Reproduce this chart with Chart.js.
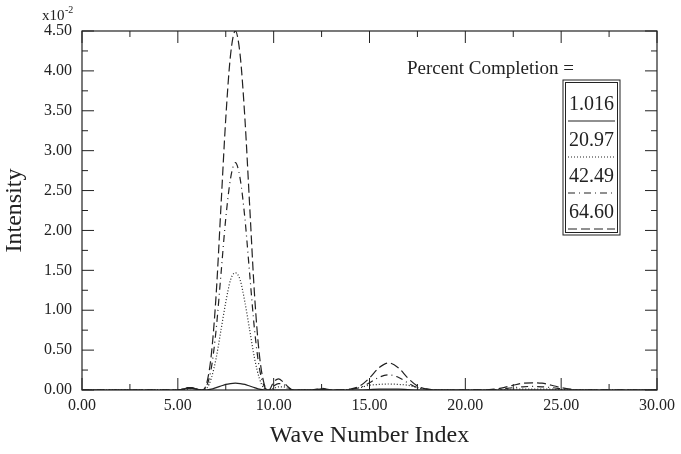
<!DOCTYPE html>
<html>
<head>
<meta charset="utf-8">
<script src="https://cdn.jsdelivr.net/npm/chart.js@4/dist/chart.umd.min.js"></script>
<style>
  html, body { margin: 0; padding: 0; background: #fff; }
  .wrap { position: relative; width: 681px; height: 454px; }
</style>
</head>
<body>
<div class="wrap"><canvas id="spectrum"></canvas></div>
<script>
// wave number index (x) shared by all curves
const waveIndex = [
  0, 1, 2, 3, 4, 4.5, 5, 5.25, 5.5, 5.75,
  6, 6.25, 6.5, 6.75, 7, 7.25, 7.5, 7.75, 8, 8.25,
  8.5, 8.75, 9, 9.25, 9.5, 9.75, 10, 10.25, 10.5, 10.75,
  11, 11.5, 12, 12.5, 13, 13.5, 14, 14.5, 15, 15.5,
  16, 16.5, 17, 17.5, 18, 18.5, 19, 20, 21, 21.5,
  22, 22.5, 23, 23.5, 24, 24.5, 25, 25.5, 26, 27,
  28, 29, 30
];

// intensity, in units of 1e-2
const pct1016 = [
  0, 0, 0, 0, 0, 0, 0, 0.01, 0.02, 0.02,
  0.01, 0, 0, 0.01, 0.03, 0.05, 0.07, 0.08, 0.085, 0.08,
  0.07, 0.05, 0.03, 0.01, 0, 0, 0, 0, 0, 0,
  0, 0, 0, 0.01, 0, 0, 0, 0, 0.005, 0.01,
  0.01, 0.01, 0.005, 0, 0, 0, 0, 0, 0, 0,
  0, 0, 0, 0, 0, 0, 0, 0, 0, 0,
  0, 0, 0
];
const pct2097 = [
  0, 0, 0, 0, 0, 0, 0, 0, 0.01, 0.02,
  0.01, 0, 0.02, 0.15, 0.4, 0.75, 1.1, 1.38, 1.47, 1.38,
  1.1, 0.75, 0.4, 0.15, 0.02, 0, 0.02, 0.04, 0.04, 0.02,
  0, 0, 0, 0.01, 0, 0, 0.01, 0.03, 0.06, 0.07,
  0.075, 0.07, 0.06, 0.03, 0.01, 0, 0, 0, 0, 0,
  0.005, 0.01, 0.01, 0.01, 0.01, 0.01, 0.005, 0, 0, 0,
  0, 0, 0
];
const pct4249 = [
  0, 0, 0, 0, 0, 0, 0, 0.01, 0.02, 0.02,
  0.01, 0, 0.05, 0.28, 0.76, 1.45, 2.15, 2.65, 2.85, 2.65,
  2.15, 1.45, 0.76, 0.28, 0.05, 0, 0.05, 0.08, 0.07, 0.03,
  0, 0, 0, 0.01, 0, 0, 0.01, 0.03, 0.09, 0.16,
  0.19, 0.16, 0.09, 0.03, 0.01, 0, 0, 0, 0, 0,
  0.015, 0.03, 0.04, 0.045, 0.04, 0.03, 0.015, 0, 0, 0,
  0, 0, 0
];
const pct6460 = [
  0, 0, 0, 0, 0, 0, 0, 0.01, 0.03, 0.03,
  0.01, 0, 0.08, 0.45, 1.2, 2.3, 3.4, 4.2, 4.5, 4.2,
  3.4, 2.3, 1.2, 0.45, 0.08, 0, 0.1, 0.14, 0.1, 0.04,
  0, 0, 0, 0.02, 0, 0, 0.01, 0.05, 0.15, 0.28,
  0.34, 0.28, 0.15, 0.05, 0.01, 0, 0, 0, 0, 0.01,
  0.03, 0.06, 0.085, 0.09, 0.085, 0.06, 0.03, 0.01, 0, 0,
  0, 0, 0
];

const seriesLabels = ['1.016', '20.97', '42.49', '64.60'];
const seriesDashes = [[], [1, 2], [7, 4, 1, 4], [9, 4]];
const seriesValues = [pct1016, pct2097, pct4249, pct6460];

const SERIF = '"Liberation Serif", "Times New Roman", serif';
const INK = '#222';

function toPoints(values) {
  return values.map((v, i) => ({ x: waveIndex[i], y: v }));
}

// frame, inward ticks on all sides, exponent note and legend box
const framePlugin = {
  id: 'frame',
  afterDraw(chart) {
    const { ctx, chartArea: a, scales: { x, y } } = chart;
    ctx.save();
    ctx.strokeStyle = INK;
    ctx.lineWidth = 1.2;
    ctx.strokeRect(a.left, a.top, a.right - a.left, a.bottom - a.top);

    ctx.lineWidth = 1;
    ctx.beginPath();
    x.ticks.forEach(t => {
      const px = x.getPixelForValue(t.value);
      ctx.moveTo(px, a.bottom); ctx.lineTo(px, a.bottom - 12);
      ctx.moveTo(px, a.top); ctx.lineTo(px, a.top + 12);
      if (t.value + 2.5 < x.max) {
        const pm = x.getPixelForValue(t.value + 2.5);
        ctx.moveTo(pm, a.bottom); ctx.lineTo(pm, a.bottom - 6);
        ctx.moveTo(pm, a.top); ctx.lineTo(pm, a.top + 6);
      }
    });
    y.ticks.forEach(t => {
      const py = y.getPixelForValue(t.value);
      ctx.moveTo(a.left, py); ctx.lineTo(a.left + 12, py);
      ctx.moveTo(a.right, py); ctx.lineTo(a.right - 12, py);
      if (t.value + 0.25 < y.max) {
        const pm = y.getPixelForValue(t.value + 0.25);
        ctx.moveTo(a.left, pm); ctx.lineTo(a.left + 6, pm);
        ctx.moveTo(a.right, pm); ctx.lineTo(a.right - 6, pm);
      }
    });
    ctx.stroke();

    // x10^-2 note
    ctx.fillStyle = INK;
    ctx.textBaseline = 'alphabetic';
    ctx.textAlign = 'left';
    ctx.font = '15px ' + SERIF;
    ctx.fillText('x10', a.left - 40, a.top - 11);
    ctx.font = '10px ' + SERIF;
    ctx.fillText('-2', a.left - 17, a.top - 18);

    // legend
    ctx.font = '19px ' + SERIF;
    ctx.textBaseline = 'middle';
    ctx.fillText('Percent Completion =', a.right - 250, a.top + 38);

    const bx = a.right - 94, by = a.top + 49, bw = 57, bh = 155;
    ctx.lineWidth = 1;
    ctx.strokeRect(bx, by, bw, bh);
    ctx.strokeRect(bx + 2.5, by + 2.5, bw - 5, bh - 5);

    ctx.textAlign = 'center';
    ctx.font = '20px ' + SERIF;
    chart.data.datasets.forEach((ds, i) => {
      const cy = by + 25 + i * 36;
      ctx.fillText(ds.label, bx + bw / 2, cy);
      ctx.setLineDash(ds.borderDash || []);
      ctx.lineWidth = 1.2;
      ctx.beginPath();
      ctx.moveTo(bx + 5, cy + 16);
      ctx.lineTo(bx + bw - 5, cy + 16);
      ctx.stroke();
      ctx.setLineDash([]);
    });
    ctx.restore();
  },
};

new Chart(document.getElementById('spectrum'), {
  type: 'line',
  data: {
    datasets: seriesLabels.map((label, i) => ({
      label: label,
      data: toPoints(seriesValues[i]),
      borderColor: INK,
      borderWidth: 1.2,
      borderDash: seriesDashes[i],
      pointRadius: 0,
      fill: false,
      cubicInterpolationMode: 'monotone',
    })),
  },
  options: {
    responsive: true,
    maintainAspectRatio: false,
    animation: false,
    layout: { padding: { top: 31, right: 19, left: 0, bottom: 0 } },
    plugins: { legend: { display: false }, tooltip: { enabled: false } },
    scales: {
      x: {
        type: 'linear',
        min: 0,
        max: 30,
        afterFit: scale => { scale.height = 64; },
        grid: { display: false, drawTicks: false },
        border: { display: false },
        ticks: {
          stepSize: 5,
          padding: 6,
          color: INK,
          font: { family: SERIF, size: 16 },
          callback: v => v.toFixed(2),
        },
        title: {
          display: true,
          text: 'Wave Number Index',
          color: INK,
          font: { family: SERIF, size: 24 },
          padding: { top: 0, bottom: 4 },
        },
      },
      y: {
        min: 0,
        max: 4.5,
        afterFit: scale => { scale.width = 82; },
        grid: { display: false, drawTicks: false },
        border: { display: false },
        ticks: {
          stepSize: 0.5,
          padding: 10,
          color: INK,
          font: { family: SERIF, size: 16 },
          callback: v => v.toFixed(2),
        },
        title: {
          display: true,
          text: 'Intensity',
          color: INK,
          font: { family: SERIF, size: 24 },
          padding: { top: 0, bottom: 0 },
        },
      },
    },
  },
  plugins: [framePlugin],
});
</script>
</body>
</html>
